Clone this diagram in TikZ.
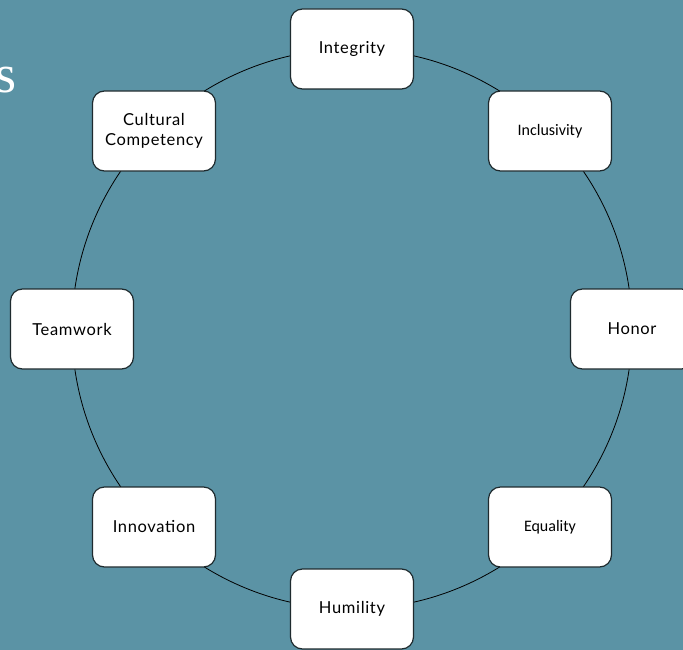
\documentclass[tikz,border=0pt]{standalone}
\usepackage{fontspec}
\setmainfont{Liberation Serif}
\newfontfamily\labelfont[LetterSpace=4]{Lato}
\newfontfamily\calfont{Carlito}
\definecolor{slidebg}{HTML}{5B93A5}
\definecolor{boxline}{HTML}{1E2A2E}
\begin{document}
\begin{tikzpicture}[x=1bp,y=-1bp,
  valuebox/.style={draw=boxline, line width=1.2bp, fill=white, rounded corners=12bp,
    minimum width=123bp, minimum height=80bp, align=center, inner sep=2bp,
    font=\labelfont\fontsize{16.5bp}{20bp}\selectfont},
  calbox/.style={valuebox, font=\calfont\fontsize{16bp}{18bp}\selectfont},
  ring/.style={draw=black, line width=0.8bp}]
  \path[use as bounding box, fill=slidebg] (0,0) rectangle (683,650);
  \begin{scope}
    \clip (0,0) rectangle (683,650);
    % partial title letter at the left edge
    \node[anchor=base east, text=white, inner sep=0pt, font=\fontsize{54bp}{54bp}\selectfont] (title) at (17,93) {s};
    % ring joining the values
    \coordinate (c) at (352,329);
    \draw[ring] (c) circle[radius=280bp];
    \node[valuebox] (integrity) at (352,49) {Integrity};
    \node[calbox] (inclusivity) at (550,131) {Inclusivity};
    \node[valuebox] (honor) at (632,329) {Honor};
    \node[calbox] (equality) at (550,527) {Equality};
    \node[valuebox] (humility) at (352,609) {Humility};
    \node[valuebox] (innovation) at (154,527) {Innovation};
    \node[valuebox] (teamwork) at (72,329) {Teamwork};
    \node[valuebox] (cultural) at (154,131) {Cultural\\Competency};
  \end{scope}
\end{tikzpicture}
\end{document}
